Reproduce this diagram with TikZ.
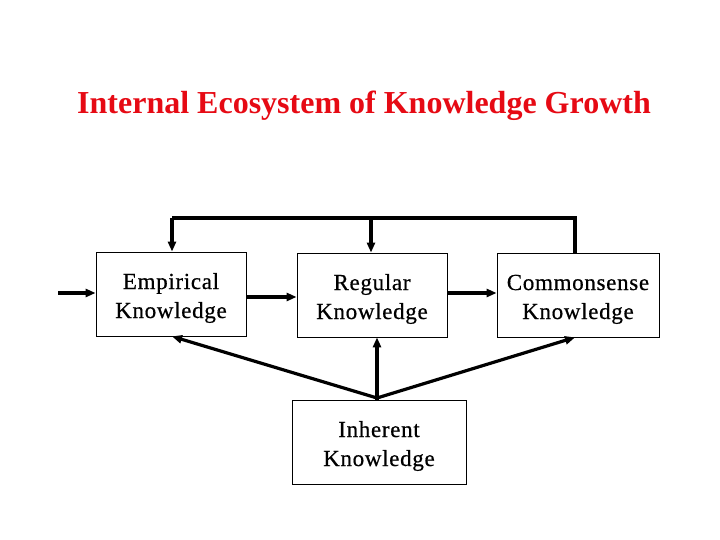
\documentclass[tikz,border=0pt]{standalone}
\usepackage{fontspec}
\setmainfont{Liberation Serif}
\newfontfamily\boxfont[LetterSpace=3,FakeBold=0.6]{Liberation Serif}
\usetikzlibrary{arrows.meta}
\definecolor{titlered}{RGB}{230,10,20}
\tikzset{
  kbox/.style={draw, line width=0.8pt, minimum width=150pt, minimum height=84pt, align=center, inner sep=0pt, font=\boxfont\fontsize{23}{29}\selectfont},
  conn/.style={line width=3.2pt, -{Triangle[length=10pt,width=8pt]}},
  plain/.style={line width=3.2pt}
}
\begin{document}
\begin{tikzpicture}[x=1pt,y=1pt]
\useasboundingbox (0,0) rectangle (720,540);
\node[font=\bfseries\fontsize{32}{36}\selectfont, text=titlered] (title) at (364,434) {Internal Ecosystem of Knowledge Growth};
\node[kbox] (emp) at (171,246) {\rule{0pt}{24pt}Empirical\\Knowledge};
\node[kbox] (reg) at (372,245) {\rule{0pt}{24pt}Regular\\Knowledge};
\node[kbox, minimum width=162pt] (com) at (578,245) {\rule{0pt}{24pt}Commonsense\\Knowledge};
\node[kbox, minimum width=174pt] (inh) at (379,98) {\rule{0pt}{24pt}Inherent\\Knowledge};
\coordinate (in) at (58,247);
\coordinate (topL) at (172,322);
\coordinate (topM) at (371,322);
\coordinate (topR) at (575,322);
\coordinate (meet) at (377,142);
% top feedback line
\draw[plain, line join=miter] (com.north -| topR) -- (topR) -- (topL);
\draw[conn] (topL) -- (emp.north -| topL);
\draw[conn] (topM) -- (reg.north -| topM);
% horizontal flow
\draw[conn] (in) -- (emp.west |- in);
\draw[conn] (emp.east |- 0,243) -- (reg.west |- 0,243);
\draw[conn] (reg.east |- 0,247) -- (com.west |- 0,247);
% from inherent
\draw[plain] (inh.north -| meet) -- (meet);
\draw[conn] (meet) -- (emp.south -| topL);
\draw[conn] (meet) -- (reg.south -| meet);
\draw[conn] (meet) -- (com.south -| topR);
\end{tikzpicture}
\end{document}
